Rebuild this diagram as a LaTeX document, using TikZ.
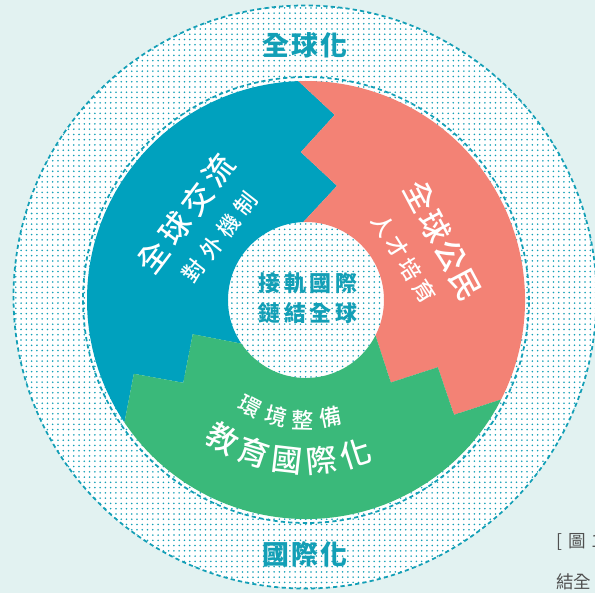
\documentclass[tikz,border=0pt]{standalone}
\usepackage{fontspec}
\newfontfamily\cjk{Noto Sans CJK TC}[BoldFont={Noto Sans CJK TC Medium}]
\newfontfamily\cjkheavy{Noto Sans CJK TC}
\usetikzlibrary{patterns}
\definecolor{mintbg}{HTML}{E2F2F1}
\definecolor{tealtext}{HTML}{139FB6}
\definecolor{ringblue}{HTML}{00A1BE}
\definecolor{ringred}{HTML}{F38275}
\definecolor{ringgreen}{HTML}{3AB97A}
\definecolor{capgrey}{HTML}{505050}

\begin{document}
\begin{tikzpicture}[x=0.02cm,y=0.02cm,
  bigtxt/.style={text=white,font=\cjk\bfseries\fontsize{17.5}{19}\selectfont\addfontfeature{LetterSpace=#1}},
  bigtxt/.default=0,
  smalltxt/.style={text=white,font=\cjk\bfseries\fontsize{12.5}{14}\selectfont\addfontfeature{LetterSpace=#1}},
  smalltxt/.default=0,
  ctrtxt/.style={text=tealtext,font=\cjkheavy\bfseries\fontsize{12.5}{14}\selectfont\addfontfeature{LetterSpace=18}},
  titletxt/.style={text=tealtext,font=\cjkheavy\bfseries\fontsize{15.3}{17}\selectfont\addfontfeature{LetterSpace=7}},
  captxt/.style={text=capgrey,anchor=west,font=\cjk\fontsize{10}{12}\selectfont},
  dashring/.style={draw=tealtext,line width=1pt,dash pattern=on 2.4pt off 1.8pt},
  zigout/.style={insert path={({#1}:78) -- ({#1-17.2}:118.3) -- ({#1}:148) -- ({#1-10.8}:187.3) -- ({#1}:219)}},
  zigin/.style={insert path={-- ({#1-10.8}:187.3) -- ({#1}:148) -- ({#1-17.2}:118.3) -- ({#1}:78)}}]
\useasboundingbox[fill=mintbg] (-306,-293) rectangle (289,300);

% dotted disc and dashed rings
\fill[white] (-1,3) circle[radius=291.5];
\fill[pattern=dots,pattern color=tealtext] (-1,3) circle[radius=291.5];
\draw[dashring] (-1,3) circle[radius=291.5];
\draw[dashring] (0,0) circle[radius=223];

% three pieces of the ring
\fill[ringblue] [zigout=92] arc[start angle=92,end angle=214,radius=219] [zigin=214] arc[start angle=214,end angle=92,radius=78] -- cycle;
\fill[ringred] [zigout=-27] arc[start angle=-27,end angle=92,radius=219] [zigin=92] arc[start angle=92,end angle=-27,radius=78] -- cycle;
\fill[ringgreen] [zigout=-146] arc[start angle=-146,end angle=-27,radius=219] [zigin=-27] arc[start angle=-27,end angle=-146,radius=78] -- cycle;

\node[titletxt] (glob) at (-1,255) {全球化};
\node[titletxt] (intl) at (-1,-254) {國際化};

\node[ctrtxt] (link) at (2,17) {接軌國際};
\node[ctrtxt] (join) at (2,-13) {鏈結全球};

\node[bigtxt=18,rotate=53] (xchg) at (-120,86) {全球交流};
\node[smalltxt=29,rotate=52] (mech) at (-86,63) {對外機制};
\node[bigtxt=8,rotate=-62] (citz) at (137,59) {全球公民};
\node[smalltxt=18,rotate=-58] (talent) at (98,42) {人才培育};

\foreach \ch [count=\i] in {教,育,國,際,化}
  \node[bigtxt,rotate={-121+12.2*(\i-1)+90}] (edu\i) at ({-121+12.2*(\i-1)}:161) {\ch};
\foreach \ch [count=\i] in {環,境,整,備}
  \node[smalltxt,rotate={-117.8+13.2*(\i-1)+90}] (env\i) at ({-117.8+13.2*(\i-1)}:120) {\ch};

\node[captxt] (capA) at (244,-242) {[\,\,圖\,\,1};
\node[captxt] (capB) at (244,-282) {結全};
\end{tikzpicture}
\end{document}
